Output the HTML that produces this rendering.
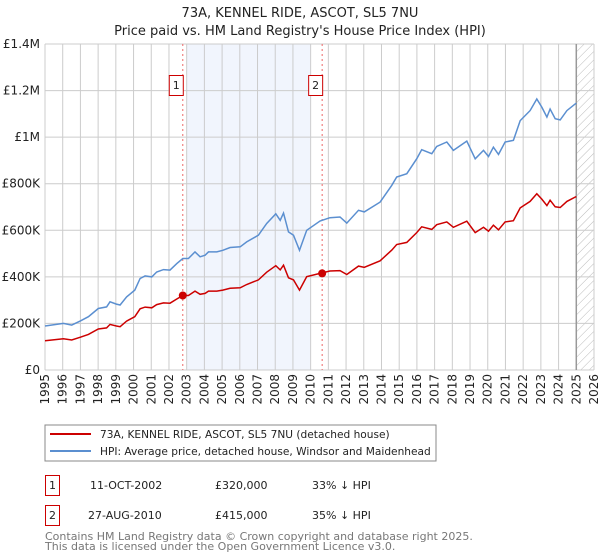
<!DOCTYPE html>
<html><head><meta charset="utf-8"><style>
body{margin:0;background:#fff;}
svg{display:block;font-family:"DejaVu Sans","Liberation Sans",sans-serif;}
</style></head><body>
<svg id="c" width="600" height="560" viewBox="0 0 600 560">
<defs><pattern id="hatch" width="6" height="6" patternUnits="userSpaceOnUse" patternTransform="rotate(45)"><line x1="0" y1="0" x2="0" y2="6" stroke="#bbb" stroke-width="1"/></pattern></defs>
<text x="300" y="17" text-anchor="middle" font-size="13" fill="#222">73A, KENNEL RIDE, ASCOT, SL5 7NU</text>
<text x="300" y="35" text-anchor="middle" font-size="13" fill="#222">Price paid vs. HM Land Registry's House Price Index (HPI)</text>
<g id="plot"></g>
<rect x="45" y="425" width="391" height="36" fill="#fff" stroke="#888"/>
<line x1="50" y1="434" x2="91" y2="434" stroke="#cc0000" stroke-width="2"/>
<text x="100" y="438" font-size="10.6" fill="#222">73A, KENNEL RIDE, ASCOT, SL5 7NU (detached house)</text>
<line x1="50" y1="451" x2="91" y2="451" stroke="#5b8fd0" stroke-width="2"/>
<text x="100" y="455" font-size="10.6" fill="#222">HPI: Average price, detached house, Windsor and Maidenhead</text>
<g font-size="11" fill="#222">
<rect x="45.5" y="475.5" width="14" height="20" fill="#fff" stroke="#cc0000"/>
<text x="52.5" y="489" text-anchor="middle">1</text>
<text x="90" y="489">11-OCT-2002</text>
<text x="215" y="489">£320,000</text>
<text x="312" y="489">33% ↓ HPI</text>
</g>
<g font-size="11" fill="#222">
<rect x="45.5" y="505.5" width="14" height="20" fill="#fff" stroke="#cc0000"/>
<text x="52.5" y="519" text-anchor="middle">2</text>
<text x="88" y="519">27-AUG-2010</text>
<text x="215" y="519">£415,000</text>
<text x="312" y="519">35% ↓ HPI</text>
</g>
<text x="45" y="540" font-size="11" fill="#777">Contains HM Land Registry data © Crown copyright and database right 2025.</text>
<text x="45" y="550" font-size="11" fill="#777">This data is licensed under the Open Government Licence v3.0.</text>
</svg>
<script>
const hpiYears=[1995.0,1996.04,1996.51,1997.0,1997.45,1998.01,1998.48,1998.67,1999.03,1999.24,1999.61,2000.07,2000.37,2000.65,2001.03,2001.31,2001.69,2002.06,2002.44,2002.78,2003.1,2003.47,2003.76,2004.04,2004.23,2004.7,2005.04,2005.45,2006.02,2006.39,2007.05,2007.52,2008.03,2008.28,2008.47,2008.75,2009.03,2009.37,2009.78,2010.53,2011.09,2011.66,2012.04,2012.7,2013.03,2013.92,2014.58,2014.86,2015.43,2015.99,2016.27,2016.84,2017.12,2017.69,2018.06,2018.82,2019.29,2019.76,2020.04,2020.32,2020.61,2020.98,2021.45,2021.83,2022.39,2022.77,2023.05,2023.34,2023.52,2023.81,2024.09,2024.47,2025.0];
const hpiValues=[189,200,193,211,229,264,271,293,283,279,314,343,393,404,400,421,431,429,457,479,479,507,486,493,507,507,514,526,529,550,579,629,671,643,674,593,579,514,600,640,654,657,631,686,679,721,793,829,843,907,946,929,960,979,943,983,907,943,917,957,926,979,986,1071,1114,1164,1129,1086,1121,1079,1074,1114,1146];
const priceValues=[126,134,129,141,153,176,181,196,189,186,210,229,263,270,267,281,288,287,305,320,320,339,325,329,339,339,343,351,353,367,387,420,448,430,450,396,387,343,401,415,425,427,410,446,441,469,515,539,548,590,615,604,624,636,613,639,590,613,596,622,602,636,641,696,724,757,734,706,729,701,698,724,745];
const yTicks=[0,200,400,600,800,1000,1200,1400];
const yTickLabels=["£0","£200K","£400K","£600K","£800K","£1M","£1.2M","£1.4M"];
const saleYears=[2002.78,2010.65];
const salePrices=[320,415];
const saleLabels=["1","2"];
const X0=45,X1=594,Y0=370,Y1=44;
const x=y=>X0+(y-1995)/31*(X1-X0);
const yv=v=>Y0-v/1400*(Y0-Y1);
const NS="http://www.w3.org/2000/svg";
const g=document.getElementById('plot');
function mk(t,a){const e=document.createElementNS(NS,t);for(const k in a)e.setAttribute(k,a[k]);g.appendChild(e);return e;}
let e;
e=mk('rect',{x:x(2003),y:Y1,width:x(2010)-x(2003),height:Y0-Y1,fill:'#eef3fc',opacity:0.8});


e=mk('rect',{x:x(2025),y:Y1,width:X1-x(2025),height:Y0-Y1,fill:'url(#hatch)'});


for(let yr=1995;yr<=2026;yr++){
 e=mk('line',{x1:x(yr),x2:x(yr),y1:Y1,y2:Y0,stroke:'#cccccc','stroke-width':1});
 
 
 e=mk('text',{x:0,y:0,'font-size':12,fill:'#222','text-anchor':'end',transform:`translate(${x(yr)+4},${Y0+4}) rotate(-90)`});
 e.textContent=yr;
 
 
}
yTicks.forEach((v,i)=>{
 e=mk('line',{x1:X0,x2:X1,y1:yv(v),y2:yv(v),stroke:'#cccccc','stroke-width':1});
 
 
 e=mk('text',{x:X0-5,y:yv(v)+4,'font-size':12,fill:'#222','text-anchor':'end'});
 e.textContent=yTickLabels[i];
 
 
});
e=mk('line',{x1:x(2025),x2:x(2025),y1:Y1,y2:Y0,stroke:'#999','stroke-width':1.5});


saleYears.forEach((sy,i)=>{
 e=mk('line',{x1:x(sy),x2:x(sy),y1:Y1,y2:Y0,stroke:'#ee6666','stroke-width':1,'stroke-dasharray':'2,3'});
 
 
 e=mk('rect',{x:x(sy)-13.5,y:75.5,width:14,height:20,fill:'#fff',stroke:'#cc0000'});
 
 
 e=mk('text',{x:x(sy)-6.5,y:89,'font-size':11,fill:'#222','text-anchor':'middle'});
 e.textContent=saleLabels[i];
 
 
});
const pts=vals=>hpiYears.map((yr,i)=>x(yr).toFixed(1)+','+yv(vals[i]).toFixed(1)).join(' ');
e=mk('polyline',{points:pts(hpiValues),fill:'none',stroke:'#5b8fd0','stroke-width':1.5});


e=mk('polyline',{points:pts(priceValues),fill:'none',stroke:'#cc0000','stroke-width':1.5});


saleYears.forEach((sy,i)=>{
 e=mk('circle',{cx:x(sy),cy:yv(salePrices[i]),r:4,fill:'#cc0000'});
 
 
});
</script>
</body></html>
